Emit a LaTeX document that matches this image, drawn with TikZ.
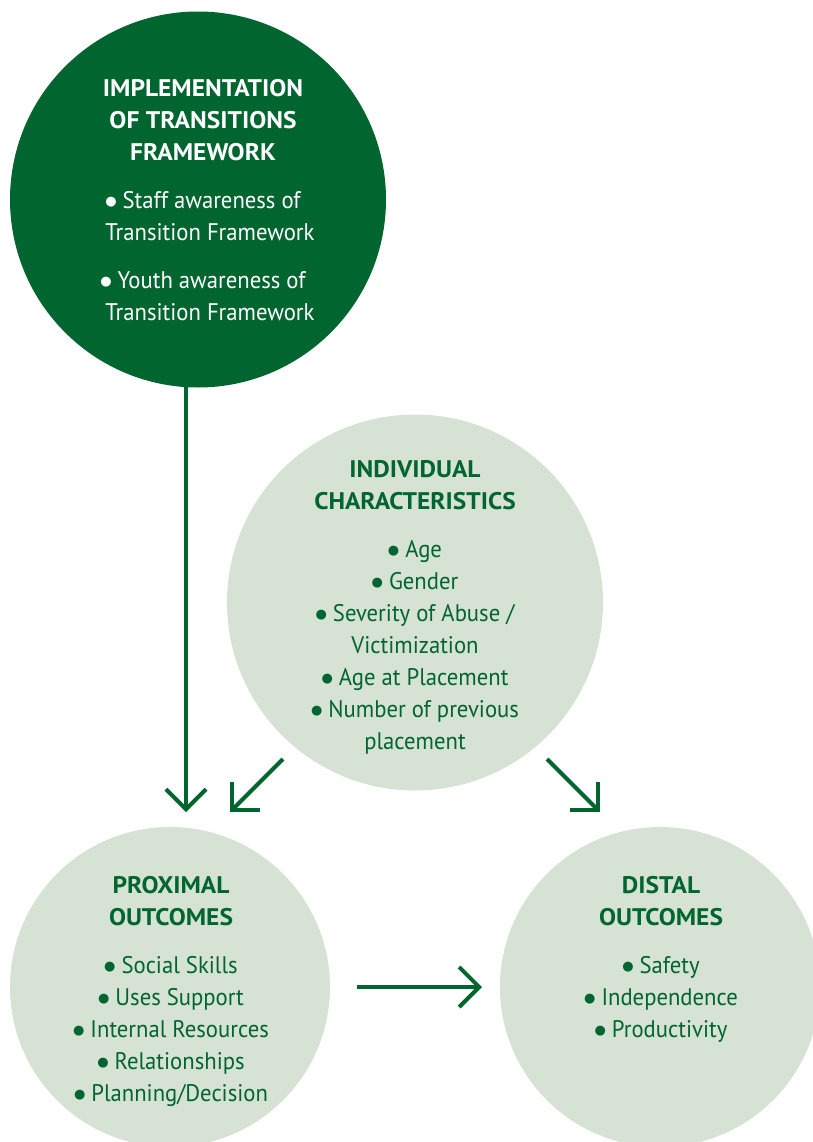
\documentclass[tikz,border=0pt]{standalone}
\usepackage{fontspec}
\setmainfont{PT Sans}[FakeStretch=0.945, BoldFeatures={FakeStretch=1.06}]
\newfontfamily\dvs{DejaVu Sans}
\usetikzlibrary{arrows.meta}
\definecolor{dkgreen}{RGB}{0,101,46}
\definecolor{ltgreen}{RGB}{214,226,212}
\tikzset{
  bubble/.style={circle, inner sep=0pt, minimum size=#1},
  dark/.style={fill=dkgreen},
  light/.style={fill=ltgreen},
  txt/.style={align=center, font=\fontsize{24}{32}\selectfont, inner sep=0pt},
  arr/.style={draw=dkgreen, line width=4pt, -{Straight Barb[length=20pt,width=40pt,line width=4pt]}},
}
\newcommand{\hd}[1]{\textbf{#1}}
\newcommand{\bul}{\raisebox{2.5pt}{\dvs\fontsize{13}{13}\selectfont ●}\hspace{6pt}}
\begin{document}
\begin{tikzpicture}[x=1pt,y=-1pt]
\useasboundingbox (0,0) rectangle (813,1142);
\begin{scope}
\clip (0,0) rectangle (813,1142);
\node[bubble=376pt, dark] (impl) at (198,199.5) {};
\node[bubble=376pt, light] (indiv) at (415,602.5) {};
\node[bubble=320pt, light] (prox) at (170,987) {};
\node[bubble=320pt, light] (dist) at (660,987) {};
\end{scope}

\node[txt, text=white, anchor=center] (implt) at (203,200) {\hd{IMPLEMENTATION}\\\hd{OF TRANSITIONS}\\\hd{FRAMEWORK}\\[16pt]
\bul Staff awareness of\\\hspace*{14pt}Transition Framework\\[16pt]
\bul Youth awareness of\\\hspace*{14pt}Transition Framework};

\node[txt, text=dkgreen, anchor=center] (indivt) at (415,607) {\hd{INDIVIDUAL}\\\hd{CHARACTERISTICS}\\[16pt]
\bul Age\\\bul Gender\\\bul Severity of Abuse /\\Victimization\\\bul Age at Placement\\\bul Number of previous\\placement};

\node[txt, text=dkgreen, anchor=center] (proxt) at (171,991) {\hd{PROXIMAL}\\\hd{OUTCOMES}\\[16pt]
\bul Social Skills\\\bul Uses Support\\\bul Internal Resources\\\bul Relationships\\\bul Planning/Decision};

\node[txt, text=dkgreen, anchor=north] (distt) at (661,876) {\hd{DISTAL}\\\hd{OUTCOMES}\\[16pt]
\bul Safety\\\bul Independence\\\bul Productivity};

\coordinate (a1s) at (186,386);
\coordinate (a1e) at (186,812);
\coordinate (a2s) at (283,759);
\coordinate (a2e) at (230,812);
\coordinate (a3s) at (547,759);
\coordinate (a3e) at (600,812);
\coordinate (a4s) at (357,987);
\coordinate (a4e) at (482,987);
\draw[arr] (a1s) -- (a1e);
\draw[arr] (a2s) -- (a2e);
\draw[arr] (a3s) -- (a3e);
\draw[arr] (a4s) -- (a4e);
\end{tikzpicture}
\end{document}
